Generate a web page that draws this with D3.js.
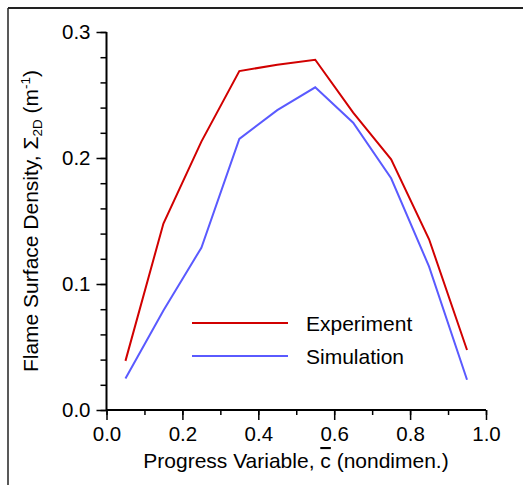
<!DOCTYPE html>
<html><head><meta charset="utf-8">
<script src="https://cdn.jsdelivr.net/npm/d3@7"></script>
<style>
html,body{margin:0;padding:0;background:#fff;}
svg text{font-family:"Liberation Sans",Arial,sans-serif;fill:#000;}
</style></head>
<body><svg id="c" width="523" height="485"></svg>
<script>
const progress = [0.05,0.15,0.25,0.35,0.45,0.55,0.65,0.75,0.85,0.95];
const experiment = [0.039,0.148,0.213,0.269,0.274,0.278,0.236,0.199,0.1355,0.0476];
const simulation = [0.025,0.079,0.1288,0.2151,0.238,0.2561,0.228,0.1839,0.1138,0.024];
const xTicks = [0,0.2,0.4,0.6,0.8,1.0];
const yTicks = [0,0.1,0.2,0.3];
const seriesNames = ["Experiment","Simulation"];
const seriesColors = ["#d10000","#5a5aff"];

const svg = d3.select("#c");
const x = d3.scaleLinear().domain([0,1]).range([106.5,486]);
const y = d3.scaleLinear().domain([0,0.3]).range([410,32]);

// frame
svg.append("line").attr("x1",8).attr("x2",523).attr("y1",8).attr("y2",8).attr("stroke","#222").attr("stroke-width",2);
svg.append("line").attr("x1",8).attr("x2",8).attr("y1",8).attr("y2",485).attr("stroke","#222").attr("stroke-width",1.5);

// series
const line = d3.line().x(d=>x(d[0])).y(d=>y(d[1]));
[experiment, simulation].forEach((vals,i)=>{
  svg.append("path").datum(progress.map((p,j)=>[p,vals[j]]))
    .attr("d",line).attr("fill","none").attr("stroke",seriesColors[i])
    .attr("stroke-width",2).attr("stroke-linejoin","miter");
});

// axes
const xMinor = d3.range(0,1.0001,0.1);
const yMinor = d3.range(0,0.3001,0.02);
const gx = svg.append("g").attr("transform","translate(0,410)");
gx.call(d3.axisBottom(x).tickValues(xMinor).tickSize(5).tickFormat(""));
gx.call(g=>g.selectAll(".domain").remove());
const gx2 = svg.append("g").attr("transform","translate(0,410)");
gx2.call(d3.axisBottom(x).tickValues(xTicks).tickSize(10).tickPadding(6).tickFormat(d3.format(".1f")));
gx2.selectAll("text").attr("font-size",20.5).attr("font-family","Liberation Sans, Arial, sans-serif");
gx2.selectAll("line, path").attr("stroke","#000");
gx2.select(".domain").attr("stroke-width",2).attr("d","M106.5,0H486");
gx2.selectAll(".tick line").attr("stroke-width",1.5);
gx.selectAll(".tick line").attr("stroke-width",1.5).attr("stroke","#000");

const gy = svg.append("g").attr("transform","translate(106.5,0)");
gy.call(d3.axisLeft(y).tickValues(yMinor).tickSize(6).tickFormat(""));
gy.call(g=>g.selectAll(".domain").remove());
gy.selectAll(".tick line").attr("stroke-width",1.5).attr("stroke","#000");
const gy2 = svg.append("g").attr("transform","translate(106.5,0)");
gy2.call(d3.axisLeft(y).tickValues(yTicks).tickSize(10).tickPadding(6).tickFormat(d3.format(".1f")));
gy2.selectAll("text").attr("font-size",20.5).attr("font-family","Liberation Sans, Arial, sans-serif");
gy2.selectAll("line, path").attr("stroke","#000");
gy2.select(".domain").attr("stroke-width",2).attr("d","M0,32V410");
gy2.selectAll(".tick line").attr("stroke-width",1.5);

// axis titles
const xt = svg.append("text").attr("x",296).attr("y",468).attr("text-anchor","middle").attr("font-size",21);
xt.append("tspan").text("Progress Variable, ");
xt.append("tspan").attr("text-decoration","overline").text("c");
xt.append("tspan").text(" (nondimen.)");

const yt = svg.append("text").attr("transform","translate(38,221) rotate(-90)").attr("text-anchor","middle").attr("font-size",21);
yt.append("tspan").text("Flame Surface Density, Σ");
yt.append("tspan").attr("font-size",13.5).attr("dy",4).text("2D");
yt.append("tspan").attr("dy",-4).text(" (m");
yt.append("tspan").attr("font-size",13.5).attr("dy",-8).text("-1");
yt.append("tspan").attr("dy",8).text(")");

// legend
const leg = svg.append("g");
seriesNames.forEach((n,i)=>{
  const yy = 323 + i*33;
  leg.append("line").attr("x1",192).attr("x2",288).attr("y1",yy).attr("y2",yy).attr("stroke",seriesColors[i]).attr("stroke-width",2);
  leg.append("text").attr("x",306).attr("y",yy+7.5).attr("font-size",21).text(n);
});
</script></body></html>
